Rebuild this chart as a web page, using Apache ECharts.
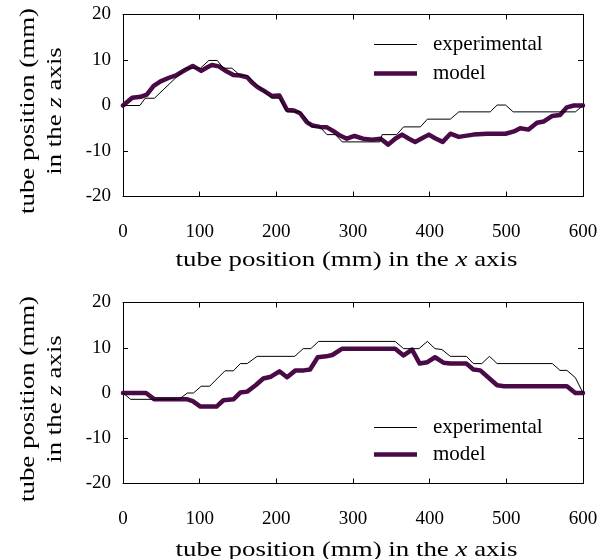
<!DOCTYPE html>
<html>
<head>
<meta charset="utf-8">
<script src="https://cdn.jsdelivr.net/npm/echarts@6/dist/echarts.min.js"></script>
<style>html,body{margin:0;padding:0;background:#fff;}#c{width:610px;height:559px;}</style>
</head>
<body>
<div id="c"></div>
<script>
var xTicks = [0, 100, 200, 300, 400, 500, 600];
var zTicks = [-20, -10, 0, 10, 20];
var seriesNames = ['experimental', 'model'];

var topExperimental = [[0,0],[22,0],[29,1.6],[41,1.6],[72,6.6],[82,8.2],[101,8.2],[112,9.9],[123,9.9],[131,8.2],[142,8.2],[153,6.6],[162,6.6],[172,4.9],[183,3.3],[194,1.6],[204,1.6],[214,-1.4],[231,-1.4],[240,-3.1],[246,-4.7],[257,-4.7],[266,-6.4],[277,-6.4],[286,-8.0],[335,-8.0],[338,-6.4],[357,-6.4],[366,-4.7],[388,-4.7],[397,-3.0],[427,-3.0],[438,-1.4],[479,-1.4],[488,0.1],[499,0.1],[509,-1.4],[590,-1.4],[600,0]];
var topModel = [[0,0],[12,1.7],[23,1.9],[31,2.4],[40,4.3],[49,5.3],[60,6.1],[70,6.7],[81,7.8],[91,8.7],[102,7.6],[110,8.4],[116,8.9],[125,8.6],[133,7.7],[144,6.7],[153,6.6],[162,6.2],[168,5.1],[175,4.1],[183,3.3],[194,2.1],[204,2.2],[214,-1.0],[223,-1.1],[231,-1.7],[240,-3.7],[247,-4.4],[257,-4.7],[266,-4.8],[275,-5.7],[283,-6.6],[292,-7.3],[302,-6.7],[313,-7.3],[325,-7.5],[336,-7.3],[346,-8.6],[355,-7.3],[364,-6.4],[373,-7.3],[381,-8.0],[390,-7.2],[399,-6.4],[407,-7.2],[417,-8.0],[427,-6.2],[438,-6.9],[457,-6.4],[475,-6.2],[499,-6.2],[510,-5.7],[518,-5.0],[529,-5.3],[540,-3.8],[549,-3.5],[560,-2.3],[570,-2.1],[579,-0.4],[588,0],[600,0]];

var bottomExperimental = [[0,0],[10,-1.4],[73,-1.4],[84,0],[92,0],[102,1.5],[113,1.5],[133,4.9],[144,4.9],[153,6.5],[162,6.5],[175,8.1],[224,8.1],[235,9.8],[245,9.8],[255,11.4],[355,11.4],[366,9.8],[386,9.8],[397,11.4],[407,9.8],[416,9.6],[427,8.1],[448,8.1],[457,6.5],[468,6.5],[478,8.1],[488,6.5],[560,6.5],[570,5.0],[579,5.0],[590,3.4],[600,0]];
var bottomModel = [[0,0],[30,0],[41,-1.4],[84,-1.4],[91,-1.8],[101,-3.0],[122,-3.0],[131,-1.6],[144,-1.4],[153,0.1],[162,0.3],[173,1.7],[183,3.2],[193,3.6],[204,4.8],[214,3.5],[225,5.0],[236,5.0],[244,5.2],[254,7.9],[265,8.1],[273,8.4],[286,9.8],[355,9.8],[366,8.3],[377,9.6],[387,6.5],[397,6.8],[407,7.9],[418,6.7],[427,6.5],[448,6.5],[457,5.2],[466,5.0],[488,1.7],[497,1.5],[579,1.5],[590,0],[600,0]];

var FONT = 'Liberation Serif';
var MODEL_COLOR = '#4a0a47';
var TITLE_RICH = {
  n: { fontFamily: FONT, fontSize: 21.5, lineHeight: 27, fill: '#000' },
  i: { fontFamily: FONT, fontSize: 21.5, lineHeight: 27, fontStyle: 'italic', fill: '#000' }
};

function xAx(grid, pos, labels) {
  return {
    type: 'value', gridIndex: grid, position: pos,
    min: xTicks[0], max: xTicks[xTicks.length - 1], interval: xTicks[1] - xTicks[0],
    axisLine: { show: true, onZero: false, lineStyle: { color: '#000', width: 1 } },
    axisTick: { show: true, inside: true, length: 5, lineStyle: { color: '#000' } },
    splitLine: { show: false },
    axisLabel: { show: labels, margin: 26, color: '#000', fontFamily: FONT, fontSize: 19 }
  };
}
function yAx(grid, pos, labels) {
  return {
    type: 'value', gridIndex: grid, position: pos,
    min: zTicks[0], max: zTicks[zTicks.length - 1], interval: zTicks[1] - zTicks[0],
    axisLine: { show: true, onZero: false, lineStyle: { color: '#000', width: 1 } },
    axisTick: { show: true, inside: true, length: 5, lineStyle: { color: '#000' } },
    splitLine: { show: false },
    axisLabel: { show: labels, margin: 12, color: '#000', fontFamily: FONT, fontSize: 19 }
  };
}
function expSeries(x, y, data) {
  return { name: seriesNames[0], type: 'line', xAxisIndex: x, yAxisIndex: y, data: data, symbol: 'none', z: 3,
    lineStyle: { color: '#000', width: 1 }, itemStyle: { color: '#000', borderWidth: 0 } };
}
function modelSeries(x, y, data) {
  return { name: seriesNames[1], type: 'line', xAxisIndex: x, yAxisIndex: y, data: data, symbol: 'none', z: 2,
    lineStyle: { color: MODEL_COLOR, width: 4.5, cap: 'round', join: 'round' }, itemStyle: { color: MODEL_COLOR, borderWidth: 0 } };
}
var ICON_THIN = 'path://M0,0h0.01v0.01h-0.01z M0,14h0.01v-0.01h-0.01z M0,6.5h43v1h-43z';
var ICON_THICK = 'path://M0,0h0.01v0.01h-0.01z M0,14h0.01v-0.01h-0.01z M0,4.75h43v4.5h-43z';
function legend(top, gap) {
  return {
    data: [{ name: seriesNames[0], icon: ICON_THIN }, { name: seriesNames[1], icon: ICON_THICK }],
    orient: 'vertical', left: 369, top: top, itemWidth: 43, itemHeight: 14, itemGap: gap,
    selectedMode: false,
    itemStyle: { borderWidth: 0 },
    textStyle: { fontFamily: FONT, fontSize: 21, color: '#000', padding: [5, 0, 0, 11] }
  };
}
function xTitle(cy) {
  return { type: 'text', x: 346.5, y: cy, scaleX: 1.25, silent: true,
    style: { text: '{n|tube position (mm) in the }{i|x}{n| axis}', rich: TITLE_RICH, align: 'center', verticalAlign: 'middle' } };
}
function yTitle(cy) {
  return { type: 'text', x: 41.5, y: cy, rotation: Math.PI / 2, scaleX: 1.25, silent: true,
    style: { text: '{n|tube position (mm)}\n{n|in the }{i|z}{n| axis}', rich: TITLE_RICH, align: 'center', verticalAlign: 'middle' } };
}

var chart = echarts.init(document.getElementById('c'), null, { renderer: 'canvas' });
chart.setOption({
  animation: false,
  backgroundColor: '#fff',
  grid: [
    { left: 123, width: 460, top: 14.5, height: 182 },
    { left: 123, width: 460, top: 302.5, height: 181 }
  ],
  xAxis: [xAx(0, 'bottom', true), xAx(1, 'bottom', true), xAx(0, 'top', false), xAx(1, 'top', false)],
  yAxis: [yAx(0, 'left', true), yAx(1, 'left', true), yAx(0, 'right', false), yAx(1, 'right', false)],
  legend: [legend(29, 8), legend(412, 6)],
  graphic: [xTitle(260.7), xTitle(550.7), yTitle(111), yTitle(399)],
  series: [
    expSeries(0, 0, topExperimental),
    modelSeries(0, 0, topModel),
    expSeries(1, 1, bottomExperimental),
    modelSeries(1, 1, bottomModel)
  ]
});
</script>
</body>
</html>
